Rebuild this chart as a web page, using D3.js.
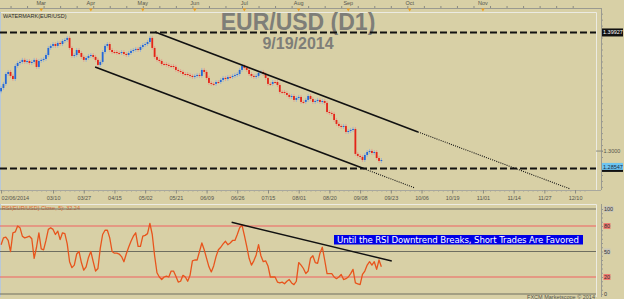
<!DOCTYPE html>
<html>
<head>
<meta charset="utf-8">
<script src="https://cdn.jsdelivr.net/npm/d3@7.9.0/dist/d3.min.js"></script>
<style>
  body { margin: 0; background: #d8d0a6; }
  svg { display: block; font-family: "Liberation Sans", Arial, sans-serif; }
  .small { font-size: 5.5px; fill: #55554c; }
</style>
</head>
<body>
<svg id="chart" width="624" height="299"></svg>
<script>
// bar index 0 = Mon 02/03/2014, past bars are trading days, future slots are calendar days
const firstIdx = 3;
const firstOpen = 1.3500;
const closes = [
  1.3528,1.3562,1.3645,1.3662,1.3629,1.3603,1.3712,1.3737,1.3746,1.3763,
  1.3746,1.3754,1.3737,1.3746,1.3763,1.3704,1.3754,1.3763,1.3771,1.3804,
  1.3863,1.3880,1.3896,1.3880,1.3905,1.3896,1.3921,1.3930,1.3947,1.3863,
  1.3796,1.3804,1.3846,1.3821,1.3788,1.3763,1.3779,1.3796,1.3804,1.3788,
  1.3763,1.3721,1.3746,1.3829,1.3880,1.3896,1.3846,1.3829,1.3829,1.3821,
  1.3821,1.3829,1.3813,1.3804,1.3821,1.3838,1.3846,1.3855,1.3846,1.3871,
  1.3888,1.3896,1.3913,1.3947,1.3863,1.3788,1.3763,1.3754,1.3729,1.3729,
  1.3721,1.3712,1.3712,1.3704,1.3679,1.3670,1.3662,1.3645,1.3645,1.3637,
  1.3629,1.3620,1.3629,1.3637,1.3629,1.3679,1.3662,1.3612,1.3570,1.3562,
  1.3562,1.3578,1.3578,1.3595,1.3612,1.3603,1.3620,1.3620,1.3629,1.3637,
  1.3645,1.3679,1.3712,1.3696,1.3679,1.3645,1.3629,1.3620,1.3629,1.3654,
  1.3662,1.3645,1.3612,1.3562,1.3562,1.3578,1.3578,1.3553,1.3495,1.3495,
  1.3486,1.3470,1.3453,1.3461,1.3428,1.3444,1.3453,1.3411,1.3411,1.3428,
  1.3461,1.3436,1.3411,1.3419,1.3428,1.3411,1.3419,1.3403,1.3327,1.3319,
  1.3311,1.3260,1.3227,1.3210,1.3202,1.3210,1.3160,1.3168,1.3177,1.3185,
  1.2976,1.2959,1.2951,1.2925,1.2967,1.2992,1.3001,1.2984,1.2992,1.2942,
  1.2917,1.2925
];
const rsi = [
  58,66,67,63,50,72,73,80,78,68,
  66,67,68,65,42,55,72,53,52,63,
  76,78,76,70,74,64,72,71,59,38,
  31,34,47,50,37,28,32,43,50,38,
  27,30,54,70,75,75,66,50,48,48,
  47,44,38,47,55,62,68,72,56,56,
  68,69,71,83,70,45,25,20,17,20,
  21,20,27,27,21,14,15,22,20,15,
  22,39,40,40,50,60,52,42,32,26,
  33,44,52,55,59,62,58,60,63,63,
  70,78,81,69,56,42,34,39,46,58,
  45,38,39,33,20,20,20,14,13,14,
  12,15,17,13,11,15,37,34,30,24,
  27,42,45,37,36,48,55,40,24,24,
  24,20,18,20,23,17,18,20,24,29,
  13,12,11,23,27,34,38,34,38,29,
  40,32
];
const dateLabels = ["02/06/2014","03/10","03/27","04/15","05/02","05/21","06/09","06/26","07/15",
  "08/01","08/20","09/08","09/23","10/06","10/19","11/01","11/14","11/27","12/10"];
const dateIdx = [3,25,38,51,64,77,90,103,116,129,142,155,168,181,194,207,220,233,246];
const months = ["Mar","Apr","May","Jun","Jul","Aug","Sep","Oct","Nov"];
const monthIdx = [20,41,63,85,106,129,150,176,207];
const levelHigh = 1.39927;
const levelLow = 1.28547;
const priceTicks = [1.3000];
const rsiTicks = [0,20,50,80,100];
const rsiBands = [80,20];
// trend lines as [bar index, value]
const upperChannel = [[68.2,1.3997],[179.5,1.3160],[243.9,1.2683]];
const lowerChannel = [[42.8,1.3704],[156.5,1.2853],[178.2,1.2691]];
const rsiTrend = [[100.6,84.4],[168.4,38.8]];
const rsiLabel = "RSI(EUR/USD) Close, 5): 32.24";
const note = "Until the RSI Downtrend Breaks, Short Trades Are Favored";

const svg = d3.select("#chart");
const plotRight = 596, axisX = 601;
const priceTop = 12, priceBottom = 190;
const rsiTop = 204, rsiBottom = 297;

const x = d3.scaleLinear().domain([0, 250]).range([-6, -6 + 2.362 * 250]);
const y = d3.scaleLinear().domain([1.2674, 1.4164]).range([priceBottom, priceTop]);
const yr = d3.scaleLinear().domain([0, 100]).range([294, 209]);

const defs = svg.append("defs");
defs.append("clipPath").attr("id", "clipP").append("rect")
  .attr("x", 0).attr("y", priceTop).attr("width", plotRight).attr("height", priceBottom - priceTop);
defs.append("clipPath").attr("id", "clipR").append("rect")
  .attr("x", 0).attr("y", rsiTop).attr("width", plotRight).attr("height", rsiBottom - rsiTop);

// frames
const frame = svg.append("g").attr("stroke", "#ecebe2").attr("stroke-width", 1).attr("fill", "none");
frame.append("path").attr("d", `M0.5,${priceTop + 0.5}H${plotRight + 0.5}V${priceBottom}`);
frame.append("path").attr("d", `M0.5,${rsiTop + 0.5}H${plotRight + 0.5}V${rsiBottom}`);
frame.append("path").attr("d", `M0.5,${priceTop}V${priceBottom}M0.5,${rsiTop}V${rsiBottom}`).attr("stroke", "#b8c8d8");

// top ruler with month markers
const topRuler = svg.append("g").attr("transform", "translate(0,8)")
  .call(d3.axisTop(x).tickValues(d3.range(0, 251, 7)).tickSize(2).tickFormat(""));
topRuler.select(".domain").remove();
topRuler.selectAll("line").attr("stroke", "#8a8a80");
svg.append("line").attr("x1", 0).attr("x2", axisX).attr("y1", 8.5).attr("y2", 8.5).attr("stroke", "#9a9a90");
svg.selectAll(".month").data(months).join("text").attr("class", "small")
  .attr("x", (d, k) => x(monthIdx[k])).attr("y", 5).attr("text-anchor", "middle").text(d => d);
svg.selectAll(".tri").data(monthIdx).join("path")
  .attr("d", d => `M${x(d) - 1.8},8.5L${x(d) + 1.8},8.5L${x(d)},11.5Z`).attr("fill", "#f0a020");

svg.append("text").attr("class", "small").attr("x", 3).attr("y", 17.5).style("fill", "#2a2a2a")
  .text("WATERMARK(EUR/USD)");

// title
svg.append("text").attr("x", 298).attr("y", 30).attr("text-anchor", "middle")
  .attr("font-size", 23).attr("font-weight", "bold").attr("fill", "#7e7e78").text("EUR/USD (D1)");
svg.append("text").attr("x", 298).attr("y", 48.5).attr("text-anchor", "middle")
  .attr("font-size", 16).attr("font-weight", "bold").attr("fill", "#7e7e78").text("9/19/2014");

// dashed levels
svg.selectAll(".lvl").data([levelHigh, levelLow]).join("line")
  .attr("x1", 0).attr("x2", plotRight).attr("y1", d => y(d)).attr("y2", d => y(d))
  .attr("stroke", "#111").attr("stroke-width", 2).attr("stroke-dasharray", "7,3");

// candles
const bars = closes.map((c, k) => ({ i: firstIdx + k, o: k ? closes[k - 1] : firstOpen, c }));
const cg = svg.append("g").attr("clip-path", "url(#clipP)");
cg.selectAll(".wick").data(bars).join("line")
  .attr("x1", d => x(d.i)).attr("x2", d => x(d.i))
  .attr("y1", d => y(Math.max(d.o, d.c)) - 2).attr("y2", d => y(Math.min(d.o, d.c)) + 2)
  .attr("stroke", d => d.c > d.o ? "#8fb0dc" : "#e69a8e").attr("stroke-width", 0.8);
cg.selectAll(".body").data(bars).join("rect")
  .attr("x", d => x(d.i) - 0.9).attr("width", 1.8)
  .attr("y", d => y(Math.max(d.o, d.c)))
  .attr("height", d => Math.max(1, Math.abs(y(d.o) - y(d.c))))
  .attr("fill", d => d.c > d.o ? "#2468d8" : "#e42418");

// channel lines
const pline = d3.line().x(d => x(d[0])).y(d => y(d[1]));
const tg = svg.append("g").attr("clip-path", "url(#clipP)").attr("fill", "none").attr("stroke", "#111");
[upperChannel, lowerChannel].forEach(ch => {
  tg.append("path").attr("d", pline(ch.slice(0, 2))).attr("stroke-width", 1.6);
  tg.append("path").attr("d", pline(ch.slice(1))).attr("stroke-width", 1.1).attr("stroke-dasharray", "1,1.2");
});

// price axis
const pa = svg.append("g").attr("transform", `translate(${axisX},0)`)
  .call(d3.axisRight(y).tickValues(d3.range(1.27, 1.415, 0.005)).tickSize(2).tickFormat(""));
pa.select(".domain").remove();
pa.selectAll("line").attr("stroke", "#9a9a90");
svg.append("line").attr("x1", axisX + 0.5).attr("x2", axisX + 0.5).attr("y1", 8).attr("y2", priceBottom).attr("stroke", "#9a9a90");
svg.selectAll(".ptick").data(priceTicks).join("g").each(function (d) {
  const g = d3.select(this);
  g.append("line").attr("x1", plotRight).attr("x2", axisX + 2).attr("y1", y(d)).attr("y2", y(d)).attr("stroke", "#8a8a80");
  g.append("text").attr("class", "small").attr("x", axisX + 2.5).attr("y", y(d) + 2).text(d3.format(".4f")(d));
});
svg.append("rect").attr("x", axisX + 1).attr("y", y(levelHigh) - 4).attr("width", 21).attr("height", 8).attr("fill", "#111");
svg.append("text").attr("class", "small").style("fill", "#fff").attr("x", axisX + 2).attr("y", y(levelHigh) + 2)
  .text(d3.format(".5f")(levelHigh));
svg.append("rect").attr("x", axisX + 1).attr("y", y(levelLow) - 1).attr("width", 21).attr("height", 4.5).attr("fill", "#111");
svg.append("rect").attr("x", axisX + 1).attr("y", y(levelLow) - 5.5).attr("width", 21).attr("height", 7).attr("fill", "#6cc4f0");
svg.append("text").attr("class", "small").style("fill", "#1a2a40").attr("x", axisX + 2).attr("y", y(levelLow) + 0.5)
  .text(d3.format(".5f")(levelLow));

// date axis between panels
const da = svg.append("g").attr("transform", `translate(0,${priceBottom})`)
  .call(d3.axisBottom(x).tickValues(d3.range(0, 251, 2)).tickSize(1.5).tickFormat(""));
da.select(".domain").remove();
da.selectAll("line").attr("stroke", "#9a9a90");
const dl = svg.append("g").attr("transform", `translate(0,${priceBottom})`)
  .call(d3.axisBottom(x).tickValues(dateIdx).tickSize(3.5).tickFormat((d, k) => dateLabels[k]));
dl.select(".domain").attr("stroke", "#a8a89e").attr("d", `M0,0.5H${axisX}`);
dl.selectAll("line").attr("stroke", "#8a8a80");
dl.selectAll("text").attr("class", "small").attr("y", 6).attr("dy", "0.71em")
  .attr("text-anchor", (d, k) => k === 0 ? "start" : "middle");

// RSI panel
svg.append("text").attr("class", "small").style("fill", "#e0602a").attr("x", 2).attr("y", 209.5).text(rsiLabel);
svg.selectAll(".rl").data([100, 50, 0]).join("line")
  .attr("x1", 0).attr("x2", plotRight).attr("y1", d => yr(d)).attr("y2", d => yr(d))
  .attr("stroke", "#6e6e60").attr("stroke-width", 1);
svg.selectAll(".rb").data(rsiBands).join("line")
  .attr("x1", 0).attr("x2", plotRight).attr("y1", d => yr(d)).attr("y2", d => yr(d))
  .attr("stroke", "#f06060").attr("stroke-width", 1);

const rline = d3.line().x((d, k) => x(firstIdx + k)).y(d => yr(d));
svg.append("path").attr("clip-path", "url(#clipR)").attr("d", rline(rsi))
  .attr("fill", "none").attr("stroke", "#e8541c").attr("stroke-width", 1.3).attr("stroke-linejoin", "round");
svg.append("path").attr("d", d3.line().x(d => x(d[0])).y(d => yr(d[1]))(rsiTrend))
  .attr("fill", "none").attr("stroke", "#111").attr("stroke-width", 1.4);

const ra = svg.append("g").attr("transform", `translate(${axisX},0)`)
  .call(d3.axisRight(yr).tickValues(d3.range(0, 101, 5)).tickSize(2).tickFormat(""));
ra.select(".domain").remove();
ra.selectAll("line").attr("stroke", "#9a9a90");
svg.append("line").attr("x1", axisX + 0.5).attr("x2", axisX + 0.5).attr("y1", rsiTop).attr("y2", rsiBottom).attr("stroke", "#9a9a90");
svg.selectAll(".rt").data(rsiTicks).join("g").each(function (d) {
  const g = d3.select(this);
  const w = String(d).length * 3 + 1;
  if (d > 0) {
    g.append("rect").attr("x", axisX + 2.5).attr("y", yr(d) - 3).attr("width", w).attr("height", 6)
      .attr("fill", rsiBands.includes(d) ? "#f07a70" : "#c8c6b8");
  }
  g.append("text").attr("class", "small").style("fill", "#333").attr("x", axisX + 3).attr("y", yr(d) + 2).text(d);
});

// annotation
const nx = 334, ny = 235;
svg.append("rect").attr("x", nx).attr("y", ny).attr("width", 249).attr("height", 9.5).attr("fill", "#0000e6");
svg.append("text").attr("x", nx + 3).attr("y", ny + 7.6).attr("font-family", "DejaVu Sans")
  .attr("font-size", 8.6).attr("fill", "#fff").attr("textLength", 242).text(note);

svg.append("text").attr("class", "small").attr("x", 595).attr("y", 298.5).attr("text-anchor", "end")
  .text("FXCM Marketscope © 2014");
</script>
</body>
</html>
